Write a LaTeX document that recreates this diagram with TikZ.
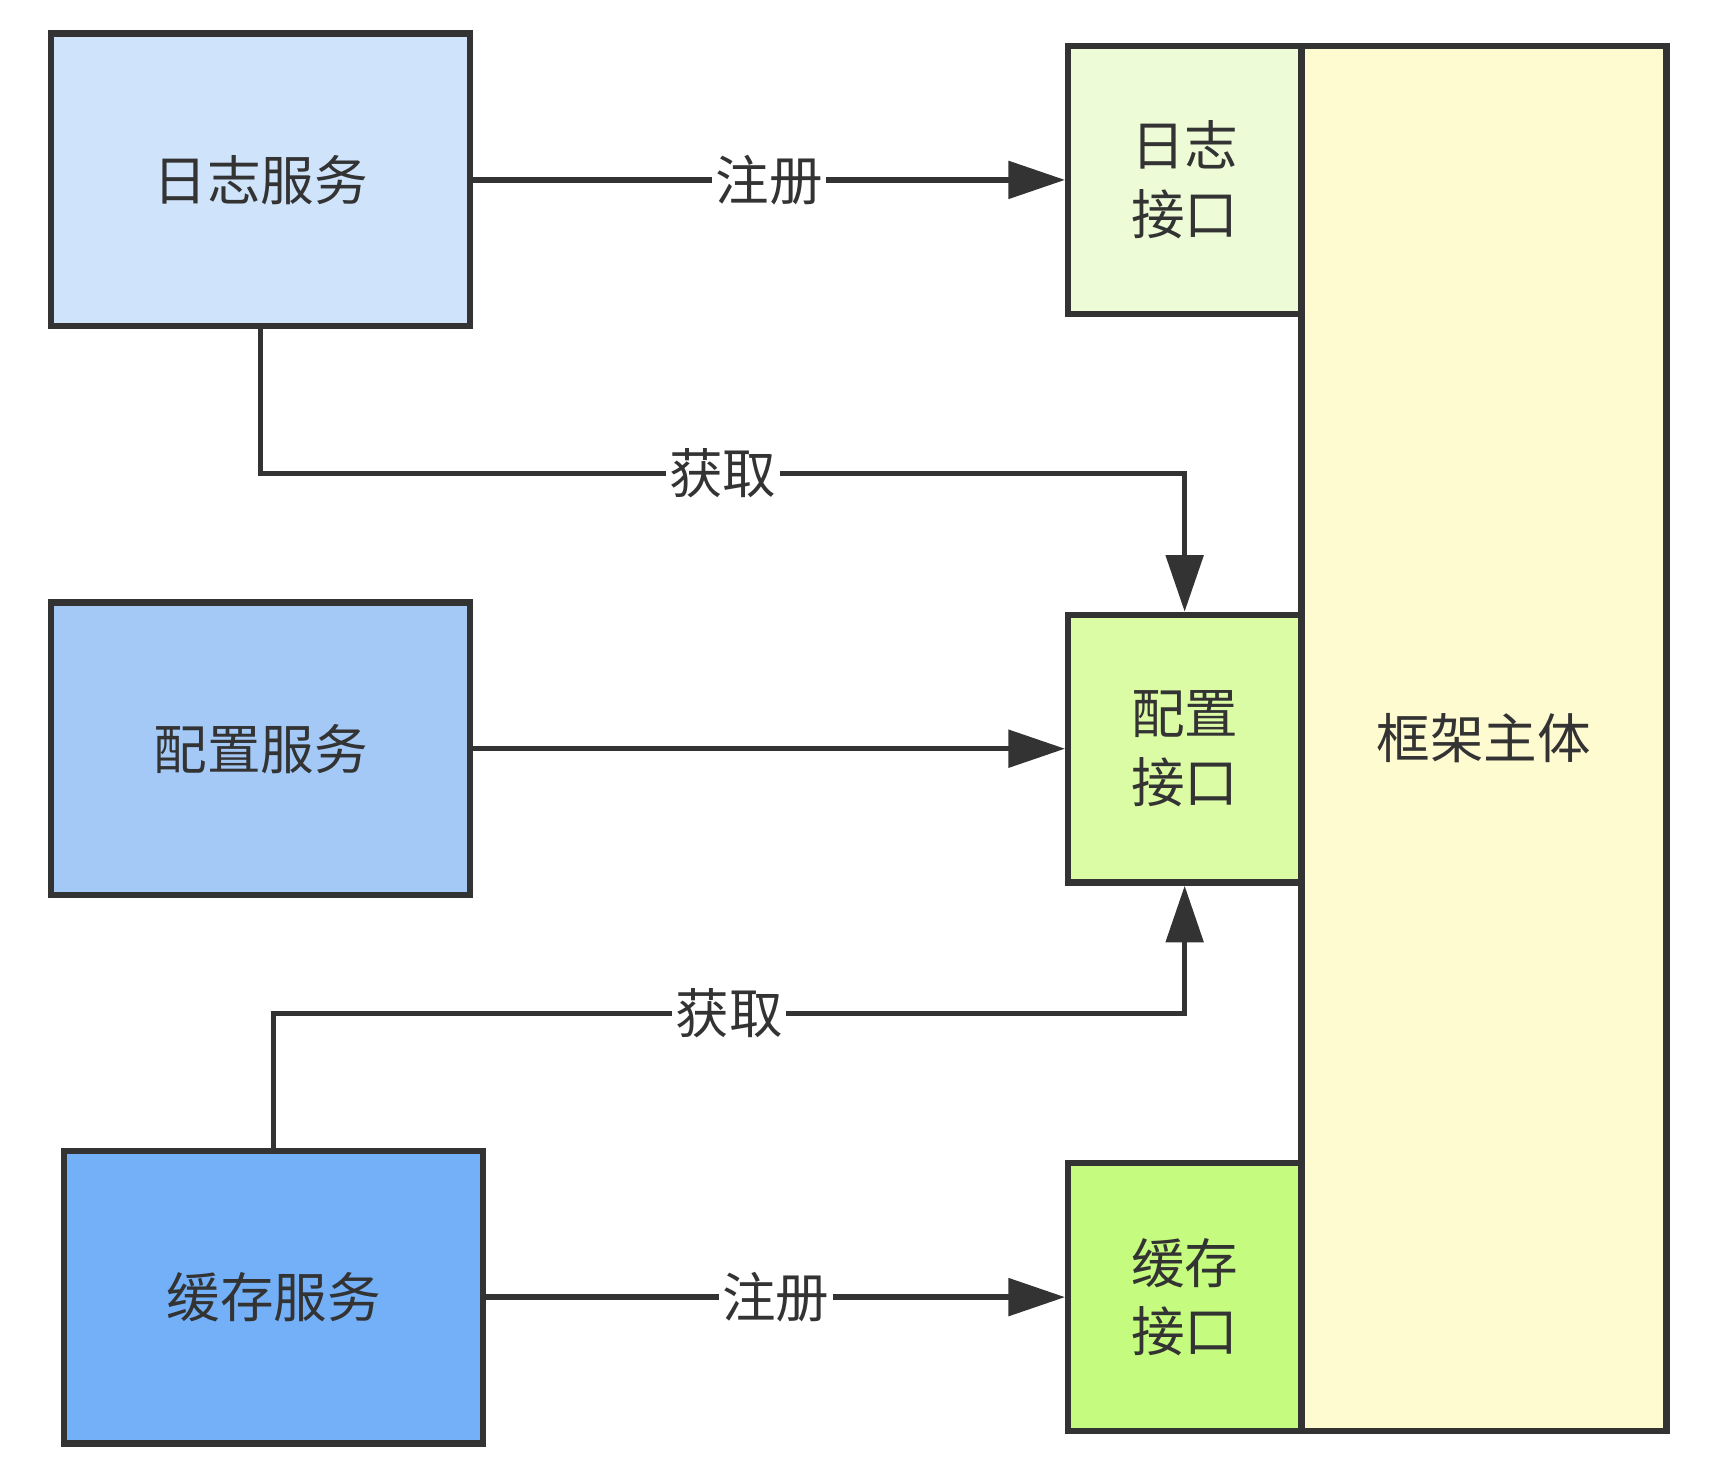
\documentclass[tikz,border=0pt]{standalone}
\usepackage{fontspec}
\setmainfont{Noto Sans CJK SC}
\usepackage{tikz}
\usetikzlibrary{
    arrows.meta,
    positioning,
    calc,
}
\definecolor{edgeGray}{HTML}{333333}
\definecolor{logBlue}{HTML}{CFE3FA}
\definecolor{cfgBlue}{HTML}{A4C9F7}
\definecolor{cacheBlue}{HTML}{74B0F8}
\definecolor{logGreen}{HTML}{EDFBD6}
\definecolor{cfgGreen}{HTML}{DBFBA5}
\definecolor{cacheGreen}{HTML}{C5FB7F}
\definecolor{coreYellow}{HTML}{FFFBD0}

\begin{document}
\begin{tikzpicture}[>={Triangle[length=1.13cm,width=0.74cm]}]

    \tikzstyle{commonNode}=[font=\fontsize{30.5}{39}\selectfont, text=edgeGray, align=center, line width=3.6pt, draw=edgeGray, rectangle, inner sep=0pt]
    \tikzstyle{service}=[commonNode, minimum width=8.38cm, minimum height=5.85cm]
    \tikzstyle{iface}=[commonNode, minimum width=4.66cm, minimum height=5.355cm]
    \tikzstyle{core}=[commonNode, minimum width=7.30cm, minimum height=27.70cm, fill=coreYellow]
    \tikzstyle{flow}=[->, line width=3pt, draw=edgeGray]
    \tikzstyle{tag}=[font=\fontsize{30.5}{34}\selectfont, text=edgeGray, fill=white, inner xsep=2pt, inner ysep=2pt]

    \useasboundingbox (0,0) rectangle (34.2,-29.4);

    % Framework column
    \node at (29.677, -14.770) [core] (C) {框架主体};

    % Services
    \node at (5.214, -3.598)  [service, fill=logBlue]   (LS) {日志服务};
    \node at (5.214, -14.974) [service, fill=cfgBlue]   (CS) {配置服务};
    \node at (5.473, -25.942) [service, fill=cacheBlue] (KS) {缓存服务};

    % Interfaces
    \node at (23.693, -3.598)  [iface, fill=logGreen]   (LI) {日志\\接口};
    \node at (23.693, -14.974) [iface, fill=cfgGreen]   (CI) {配置\\接口};
    \node at (23.693, -25.942) [iface, fill=cacheGreen] (KI) {缓存\\接口};

    % Connectors
    \draw [flow] (LS) -- node [tag] {注册} (LI);
    \draw [flow] (CS) -- (CI);
    \draw [flow] (KS) -- node [tag] {注册} (KI);
    \draw [flow] (LS.south) -- ++(0,-2.886) -| node [tag, pos=0.25] {获取} (CI.north);
    \draw [flow] (KS.north) -- ++(0,2.687) -| node [tag, pos=0.25] {获取} (CI.south);
\end{tikzpicture}
\end{document}
